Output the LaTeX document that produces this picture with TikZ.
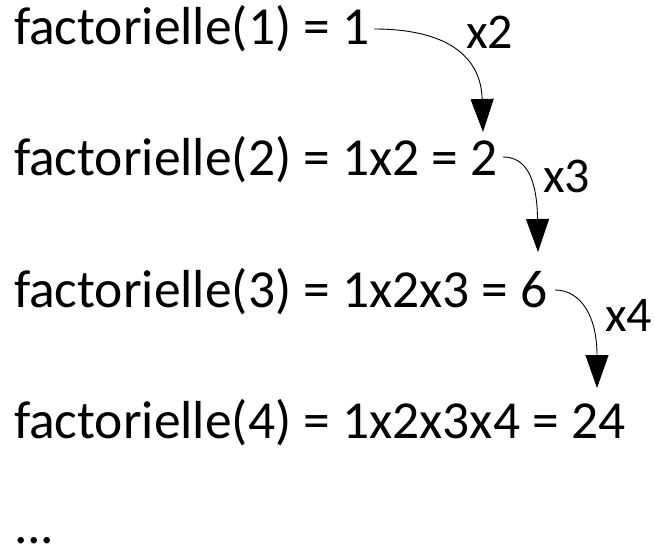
\documentclass[tikz,border=0pt]{standalone}
\usepackage{fontspec}
\setmainfont{Carlito}
\usetikzlibrary{arrows.meta}
\tikzset{
  line/.style={inner sep=0pt, outer sep=0pt, anchor=base west, font=\fontsize{53.5bp}{60bp}\selectfont},
  lab/.style={inner sep=0pt, outer sep=0pt, anchor=base west, font=\fontsize{50bp}{56bp}\selectfont},
  curvearrow/.style={line width=0.9bp, -{Triangle[length=33bp,width=23bp]}}
}
\begin{document}
\begin{tikzpicture}[x=1bp,y=-1bp]
\useasboundingbox (0,0) rectangle (655,548);
\node[line] (l1) at (14,45) {factorielle(1) = 1};
\node[line] (l2) at (14,176) {factorielle(2) = 1x2 = 2};
\node[line] (l3) at (14,307) {factorielle(3) = 1x2x3 = 6};
\node[line] (l4) at (14,438) {factorielle(4) = 1x2x3x4 = 24};
\node[line] (dots) at (14,543) {...};
\node[lab] (m2) at (466,49) {x2};
\node[lab] (m3) at (543,193) {x3};
\node[lab] (m4) at (605,331) {x4};
\coordinate (s1) at (374,29);
\coordinate (e1) at (483,132);
\coordinate (s2) at (503,157);
\coordinate (e2) at (538,252);
\coordinate (s3) at (555,290);
\coordinate (e3) at (597,388);
\draw[curvearrow] (s1) .. controls (445,29) and (481,55) .. (e1);
\draw[curvearrow] (s2) .. controls (527,157) and (537,180) .. (e2);
\draw[curvearrow] (s3) .. controls (580,290) and (597,315) .. (e3);
\end{tikzpicture}
\end{document}
